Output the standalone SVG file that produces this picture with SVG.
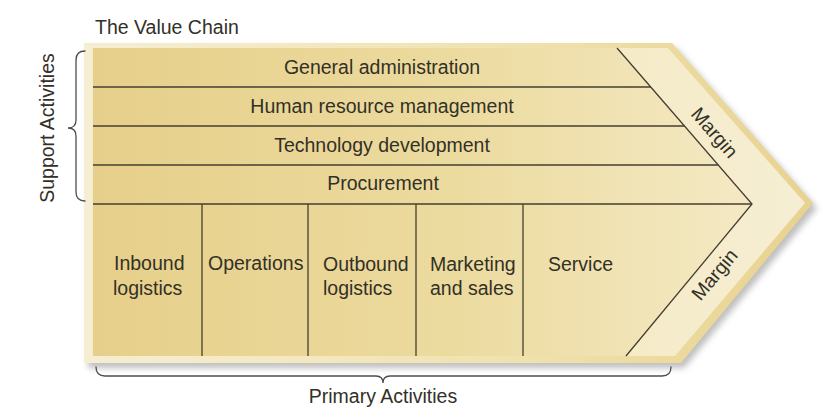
<svg xmlns="http://www.w3.org/2000/svg" width="836" height="417" viewBox="0 0 836 417">
  <defs>
    <linearGradient id="gBand" x1="84" y1="0" x2="813" y2="0" gradientUnits="userSpaceOnUse">
      <stop offset="0" stop-color="#f6eed3"/>
      <stop offset="0.6" stop-color="#f0e2ad"/>
      <stop offset="1" stop-color="#e8d290"/>
    </linearGradient>
    <linearGradient id="gMain" x1="93" y1="0" x2="752" y2="0" gradientUnits="userSpaceOnUse">
      <stop offset="0" stop-color="#e6cf8a"/>
      <stop offset="0.55" stop-color="#ecdb9f"/>
      <stop offset="1" stop-color="#f4e9c4"/>
    </linearGradient>
    <linearGradient id="gMargin" x1="617" y1="0" x2="805" y2="0" gradientUnits="userSpaceOnUse">
      <stop offset="0" stop-color="#f5ebc8"/>
      <stop offset="1" stop-color="#f6eed3"/>
    </linearGradient>
    <filter id="blur" x="-10%" y="-10%" width="120%" height="130%">
      <feGaussianBlur stdDeviation="3"/>
    </filter>
    <style>
      .t { font-family: "Liberation Sans", Arial, sans-serif; font-size: 19.5px; fill: #333027; }
      .c { text-anchor: middle; }
      .ln { stroke: #463e30; stroke-width: 1.3; fill: none; }
      .br { stroke: #4d4d4d; stroke-width: 1.3; fill: none; stroke-linecap: round; }
    </style>
  </defs>

  <!-- shadow -->
  <polygon points="88,48 676,48 817,208 684,368 88,368" fill="#8a8a8a" opacity="0.55" filter="url(#blur)"/>
  <!-- outer band -->
  <polygon points="84,43 672,43 813,203 681,363 84,363" fill="url(#gBand)"/>
  <!-- margin area -->
  <polygon points="92,48 668,48 805,203 675,356 92,356" fill="url(#gMargin)"/>
  <!-- main activities area -->
  <polygon points="93,48 617,48 752,204 626,356 93,356" fill="url(#gMain)"/>

  <text class="t" x="95" y="34" font-size="19">The Value Chain</text>

  <g id="connectors">
    <line class="ln" x1="93" y1="87" x2="650.8" y2="87"/>
    <line class="ln" x1="93" y1="126" x2="684.5" y2="126"/>
    <line class="ln" x1="93" y1="165" x2="718.3" y2="165"/>
    <line class="ln" x1="93" y1="204" x2="752" y2="204"/>
    <polyline class="ln" points="617,48 752,204 626,356"/>
    <line class="ln" x1="202" y1="204" x2="202" y2="356"/>
    <line class="ln" x1="308" y1="204" x2="308" y2="356"/>
    <line class="ln" x1="416" y1="204" x2="416" y2="356"/>
    <line class="ln" x1="523" y1="204" x2="523" y2="356"/>
  </g>

  <g id="support-brace">
    <path class="br" d="M85,51 Q76,51 76,60 L76,120 Q76,128 68,128 Q76,128 76,136 L76,192 Q76,201 85,201"/>
    <text class="t c" transform="translate(54,128) rotate(-90)">Support Activities</text>
  </g>

  <g id="primary-brace">
    <path class="br" d="M96,367 Q96,376 105,376 L376,376 Q383,376 383,383 Q383,376 390,376 L662,376 Q671,376 671,367"/>
    <text class="t c" x="383" y="403">Primary Activities</text>
  </g>

  <g id="general-administration"><text class="t c" x="382" y="74">General administration</text></g>
  <g id="human-resource-management"><text class="t c" x="382" y="113">Human resource management</text></g>
  <g id="technology-development"><text class="t c" x="382" y="152">Technology development</text></g>
  <g id="procurement"><text class="t c" x="383" y="190">Procurement</text></g>

  <g id="inbound-logistics">
    <text class="t" x="114" y="270">Inbound</text>
    <text class="t" x="113" y="295">logistics</text>
  </g>
  <g id="operations"><text class="t" x="208" y="270">Operations</text></g>
  <g id="outbound-logistics">
    <text class="t" x="323" y="271">Outbound</text>
    <text class="t" x="323" y="295">logistics</text>
  </g>
  <g id="marketing-sales">
    <text class="t" x="430" y="271">Marketing</text>
    <text class="t" x="430" y="295">and sales</text>
  </g>
  <g id="service"><text class="t" x="548" y="271">Service</text></g>

  <g id="margin-top"><text class="t c" font-size="17" transform="translate(714,133) rotate(49)" y="6">Margin</text></g>
  <g id="margin-bottom"><text class="t c" font-size="17" transform="translate(715,275) rotate(-50)" y="6">Margin</text></g>
</svg>
